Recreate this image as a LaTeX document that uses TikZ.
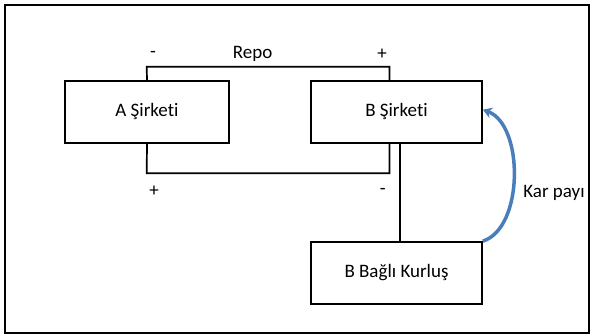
\documentclass[tikz,border=0pt]{standalone}
\usepackage{fontspec}
\setmainfont{Carlito}[Ligatures=NoCommon]
\usetikzlibrary{arrows.meta}
\definecolor{arcblue}{HTML}{4A7EBB}
\begin{document}
\begin{tikzpicture}[x=1pt,y=-1pt,
  box/.style={draw,line width=1.7pt,minimum width=164pt,minimum height=62pt,inner sep=0pt,font=\fontsize{19}{23}\selectfont},
  lbl/.style={inner sep=0pt,font=\fontsize{19}{23}\selectfont},
  wire/.style={line width=1.7pt}]
\useasboundingbox (0,0) rectangle (593,336);
\draw[line width=1.7pt] (5,5) rectangle (589,333);
\node[box] (A) at (147,111.7) {A Şirketi};
\node[box,minimum width=171pt] (B) at (396.5,111.7) {B Şirketi};
\node[box,minimum width=171pt] (C) at (396.5,273) {B Bağlı Kurluş};
\coordinate (rt) at (146.7,66.7);
\coordinate (rb) at (146.7,173.3);
\draw[wire] (A.north) -- (rt) -| ([xshift=-7pt]B.north);
\draw[wire] (A.south) -- (rb) -| ([xshift=-7pt]B.south);
\draw[wire] ([xshift=3.3pt]B.south) -- ([xshift=3.3pt]C.north);
\node[lbl] (repo) at (252.7,54) {Repo};
\node[lbl] (m1) at (153,54) {-};
\node[lbl] (p1) at (382,54) {+};
\node[lbl] (p2) at (154,191.7) {+};
\node[lbl] (m2) at (382.7,191.7) {-};
\node[lbl] (kar) at (554,192.7) {Kar payı};
\draw[arcblue,line width=3.5pt,-{Stealth[length=9pt,width=11pt]}] (C.north east) .. controls (524,228) and (524,125) .. ([yshift=2pt]B.east);
\end{tikzpicture}
\end{document}
